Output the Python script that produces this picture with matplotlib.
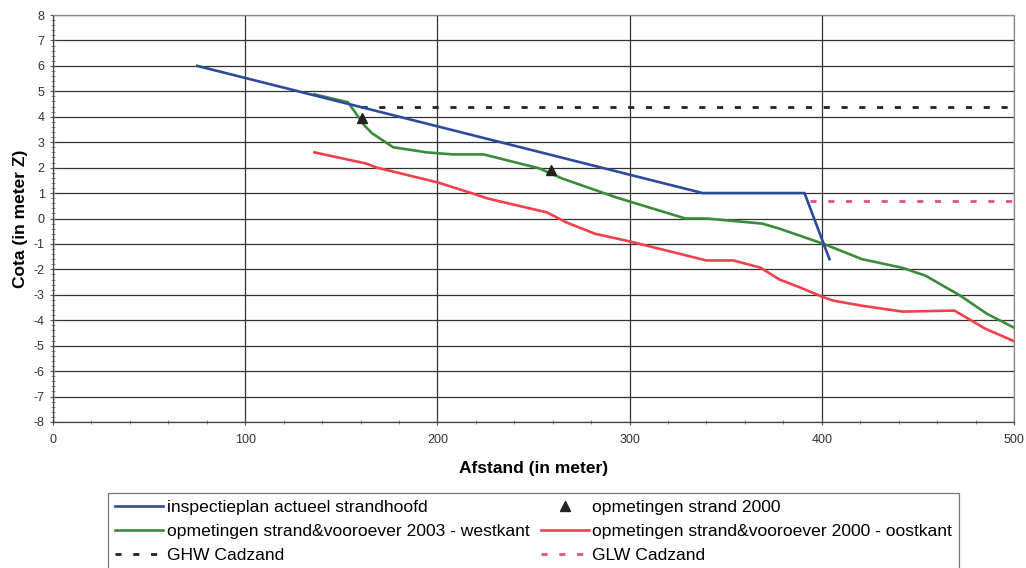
import matplotlib
matplotlib.use("Agg")
import matplotlib.pyplot as plt
from matplotlib.ticker import MultipleLocator

plt.rcParams['font.family'] = ['Liberation Sans', 'DejaVu Sans']
plt.rcParams['axes.unicode_minus'] = False

# Data
blue_x = [75, 338, 391, 404]
blue_y = [6.0, 1.0, 1.0, -1.6]

green_x = [136, 153.5, 159, 162, 166, 177, 194.5, 208, 224, 243, 253, 265, 293, 329, 340, 369, 378, 401, 421, 442, 454, 472, 486, 501]
green_y = [4.88, 4.57, 3.98, 3.66, 3.35, 2.8, 2.6, 2.52, 2.52, 2.16, 1.97, 1.57, 0.83, 0.0, 0.0, -0.2, -0.4, -1.0, -1.6, -1.94, -2.25, -3.03, -3.75, -4.33]

red_x = [136, 163, 168.5, 200, 218.5, 226, 232.6, 257, 267, 282, 300, 340, 354, 368, 378, 389, 400, 406, 421, 442, 469, 485, 500.5]
red_y = [2.6, 2.16, 2.0, 1.42, 0.98, 0.79, 0.67, 0.24, -0.15, -0.6, -0.9, -1.65, -1.65, -1.93, -2.4, -2.72, -3.07, -3.23, -3.43, -3.66, -3.62, -4.33, -4.84]

tri_x = [161, 259]
tri_y = [3.94, 1.9]

ghw_x = [160, 500]
ghw_y = [4.4, 4.4]
glw_x = [394, 500]
glw_y = [0.68, 0.68]

x_ticks = [0, 100, 200, 300, 400, 500]
y_ticks = list(range(-8, 9))

labels = ["inspectieplan actueel strandhoofd",
          "opmetingen strand&vooroever 2003 - westkant",
          "GHW Cadzand",
          "opmetingen strand 2000",
          "opmetingen strand&vooroever 2000 - oostkant",
          "GLW Cadzand"]

fig = plt.figure(figsize=(10.26, 5.68), dpi=100)
ax = fig.add_axes([53/1026, (568-422)/568, (1014-53)/1026, (422-15)/568])

lw = 1.9
l_blue, = ax.plot(blue_x, blue_y, color='#2e4b9b', lw=lw, label=labels[0], zorder=4)
l_green, = ax.plot(green_x, green_y, color='#3a8c3a', lw=lw, label=labels[1], zorder=3)
l_ghw, = ax.plot(ghw_x, ghw_y, color='#222222', lw=2.0, dashes=(2.2, 4.2), label=labels[2], zorder=3)
l_tri, = ax.plot(tri_x, tri_y, linestyle='none', marker='^', color='#222222', ms=7, label=labels[3], zorder=5)
l_red, = ax.plot(red_x, red_y, color='#f2404c', lw=lw, label=labels[4], zorder=3)
l_glw, = ax.plot(glw_x, glw_y, color='#e0508f', lw=2.0, dashes=(2.2, 4.2), label=labels[5], zorder=3)

ax.set_xlim(0, 500)
ax.set_ylim(-8, 8)
ax.set_xticks(x_ticks)
ax.set_yticks(y_ticks)
ax.xaxis.set_minor_locator(MultipleLocator(20))
ax.yaxis.set_minor_locator(MultipleLocator(0.2))
ax.grid(True, which='major', color='#333333', lw=0.9)
ax.set_axisbelow(True)
ax.tick_params(axis='both', which='major', labelsize=9, labelcolor='#333333', direction='inout', length=5, color='#555555')
ax.tick_params(axis='both', which='minor', direction='inout', length=3, color='#777777', width=0.6)
ax.tick_params(axis='x', pad=6)
for s in ax.spines.values():
    s.set_color('#888888')
    s.set_linewidth(0.9)
ax.spines['left'].set_color('#444444')
ax.spines['bottom'].set_color('#444444')

ax.set_xlabel("Afstand (in meter)", fontsize=12.5, fontweight='bold', labelpad=11)
ax.set_ylabel("Cota (in meter Z)", fontsize=12.5, fontweight='bold', labelpad=4)

handles = [l_blue, l_green, l_ghw, l_tri, l_red, l_glw]
leg = fig.legend(handles, labels, ncol=2, loc='upper left',
                 bbox_to_anchor=(108/1026, (568-493)/568),
                 fontsize=12.6, frameon=True, fancybox=False, edgecolor='#555555',
                 handlelength=2.75, handletextpad=0.2, columnspacing=0.65,
                 labelspacing=0.5, borderpad=0.4, borderaxespad=0)
leg.get_frame().set_linewidth(0.9)

fig.savefig("out.png", dpi=100)
